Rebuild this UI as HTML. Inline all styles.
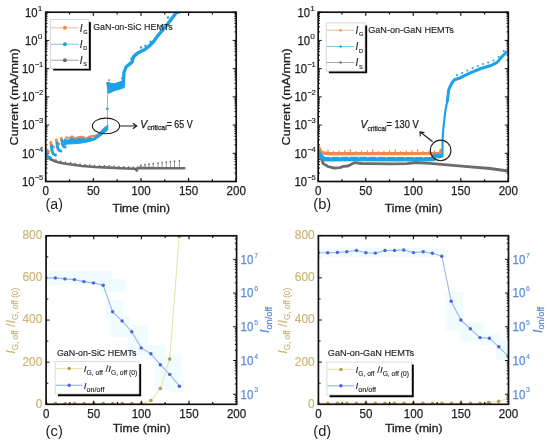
<!DOCTYPE html><html><head><meta charset="utf-8"><style>html,body{margin:0;padding:0;background:#fff;overflow:hidden}svg{display:block;will-change:transform;filter:blur(0.3px)}</style></head><body><svg width="550" height="442" viewBox="0 0 550 442" font-family='"Liberation Sans", sans-serif'><rect width="550" height="442" fill="#fff"/><defs><clipPath id="clipa"><rect x="45.7" y="12.2" width="190.50" height="169.30"/></clipPath><clipPath id="clipb"><rect x="318.2" y="12.2" width="190.10" height="169.30"/></clipPath><clipPath id="clipc"><rect x="46.1" y="235.8" width="190.50" height="168.50"/></clipPath><clipPath id="clipd"><rect x="318.4" y="235.7" width="190.10" height="168.60"/></clipPath></defs><path d="M45.7 181.5h3.5M236.2 181.5h-3.5M45.7 173.01h1.8M236.2 173.01h-1.8M45.7 168.04h1.8M236.2 168.04h-1.8M45.7 164.51h1.8M236.2 164.51h-1.8M45.7 161.78h1.8M236.2 161.78h-1.8M45.7 159.54h1.8M236.2 159.54h-1.8M45.7 157.65h1.8M236.2 157.65h-1.8M45.7 156.02h1.8M236.2 156.02h-1.8M45.7 154.57h1.8M236.2 154.57h-1.8M45.7 153.28h3.5M236.2 153.28h-3.5M45.7 144.79h1.8M236.2 144.79h-1.8M45.7 139.82h1.8M236.2 139.82h-1.8M45.7 136.3h1.8M236.2 136.3h-1.8M45.7 133.56h1.8M236.2 133.56h-1.8M45.7 131.33h1.8M236.2 131.33h-1.8M45.7 129.44h1.8M236.2 129.44h-1.8M45.7 127.8h1.8M236.2 127.8h-1.8M45.7 126.36h1.8M236.2 126.36h-1.8M45.7 125.07h3.5M236.2 125.07h-3.5M45.7 116.57h1.8M236.2 116.57h-1.8M45.7 111.6h1.8M236.2 111.6h-1.8M45.7 108.08h1.8M236.2 108.08h-1.8M45.7 105.34h1.8M236.2 105.34h-1.8M45.7 103.11h1.8M236.2 103.11h-1.8M45.7 101.22h1.8M236.2 101.22h-1.8M45.7 99.58h1.8M236.2 99.58h-1.8M45.7 98.14h1.8M236.2 98.14h-1.8M45.7 96.85h3.5M236.2 96.85h-3.5M45.7 88.36h1.8M236.2 88.36h-1.8M45.7 83.39h1.8M236.2 83.39h-1.8M45.7 79.86h1.8M236.2 79.86h-1.8M45.7 77.13h1.8M236.2 77.13h-1.8M45.7 74.89h1.8M236.2 74.89h-1.8M45.7 73h1.8M236.2 73h-1.8M45.7 71.37h1.8M236.2 71.37h-1.8M45.7 69.92h1.8M236.2 69.92h-1.8M45.7 68.63h3.5M236.2 68.63h-3.5M45.7 60.14h1.8M236.2 60.14h-1.8M45.7 55.17h1.8M236.2 55.17h-1.8M45.7 51.65h1.8M236.2 51.65h-1.8M45.7 48.91h1.8M236.2 48.91h-1.8M45.7 46.68h1.8M236.2 46.68h-1.8M45.7 44.79h1.8M236.2 44.79h-1.8M45.7 43.15h1.8M236.2 43.15h-1.8M45.7 41.71h1.8M236.2 41.71h-1.8M45.7 40.42h3.5M236.2 40.42h-3.5M45.7 31.92h1.8M236.2 31.92h-1.8M45.7 26.95h1.8M236.2 26.95h-1.8M45.7 23.43h1.8M236.2 23.43h-1.8M45.7 20.69h1.8M236.2 20.69h-1.8M45.7 18.46h1.8M236.2 18.46h-1.8M45.7 16.57h1.8M236.2 16.57h-1.8M45.7 14.93h1.8M236.2 14.93h-1.8M45.7 13.49h1.8M236.2 13.49h-1.8M45.7 12.2h3.5M236.2 12.2h-3.5" stroke="#111" stroke-width="1" fill="none"/><path d="M318.2 181.5h3.5M508.3 181.5h-3.5M318.2 173.01h1.8M508.3 173.01h-1.8M318.2 168.04h1.8M508.3 168.04h-1.8M318.2 164.51h1.8M508.3 164.51h-1.8M318.2 161.78h1.8M508.3 161.78h-1.8M318.2 159.54h1.8M508.3 159.54h-1.8M318.2 157.65h1.8M508.3 157.65h-1.8M318.2 156.02h1.8M508.3 156.02h-1.8M318.2 154.57h1.8M508.3 154.57h-1.8M318.2 153.28h3.5M508.3 153.28h-3.5M318.2 144.79h1.8M508.3 144.79h-1.8M318.2 139.82h1.8M508.3 139.82h-1.8M318.2 136.3h1.8M508.3 136.3h-1.8M318.2 133.56h1.8M508.3 133.56h-1.8M318.2 131.33h1.8M508.3 131.33h-1.8M318.2 129.44h1.8M508.3 129.44h-1.8M318.2 127.8h1.8M508.3 127.8h-1.8M318.2 126.36h1.8M508.3 126.36h-1.8M318.2 125.07h3.5M508.3 125.07h-3.5M318.2 116.57h1.8M508.3 116.57h-1.8M318.2 111.6h1.8M508.3 111.6h-1.8M318.2 108.08h1.8M508.3 108.08h-1.8M318.2 105.34h1.8M508.3 105.34h-1.8M318.2 103.11h1.8M508.3 103.11h-1.8M318.2 101.22h1.8M508.3 101.22h-1.8M318.2 99.58h1.8M508.3 99.58h-1.8M318.2 98.14h1.8M508.3 98.14h-1.8M318.2 96.85h3.5M508.3 96.85h-3.5M318.2 88.36h1.8M508.3 88.36h-1.8M318.2 83.39h1.8M508.3 83.39h-1.8M318.2 79.86h1.8M508.3 79.86h-1.8M318.2 77.13h1.8M508.3 77.13h-1.8M318.2 74.89h1.8M508.3 74.89h-1.8M318.2 73h1.8M508.3 73h-1.8M318.2 71.37h1.8M508.3 71.37h-1.8M318.2 69.92h1.8M508.3 69.92h-1.8M318.2 68.63h3.5M508.3 68.63h-3.5M318.2 60.14h1.8M508.3 60.14h-1.8M318.2 55.17h1.8M508.3 55.17h-1.8M318.2 51.65h1.8M508.3 51.65h-1.8M318.2 48.91h1.8M508.3 48.91h-1.8M318.2 46.68h1.8M508.3 46.68h-1.8M318.2 44.79h1.8M508.3 44.79h-1.8M318.2 43.15h1.8M508.3 43.15h-1.8M318.2 41.71h1.8M508.3 41.71h-1.8M318.2 40.42h3.5M508.3 40.42h-3.5M318.2 31.92h1.8M508.3 31.92h-1.8M318.2 26.95h1.8M508.3 26.95h-1.8M318.2 23.43h1.8M508.3 23.43h-1.8M318.2 20.69h1.8M508.3 20.69h-1.8M318.2 18.46h1.8M508.3 18.46h-1.8M318.2 16.57h1.8M508.3 16.57h-1.8M318.2 14.93h1.8M508.3 14.93h-1.8M318.2 13.49h1.8M508.3 13.49h-1.8M318.2 12.2h3.5M508.3 12.2h-3.5" stroke="#111" stroke-width="1" fill="none"/><g clip-path="url(#clipa)"><path d="M46 156 L50 159 L55 161.3 L60 162.8 L66 163.8 L75 165 L82 166 L95 167 L104 167.4 L120 168.2 L135.2 168.8 L136.8 170.5 L137.5 167.9 L160 168.2 L184.3 168.3" fill="none" stroke="#6c6c6c" stroke-width="2.6" stroke-linejoin="round" stroke-linecap="round" /><path d="M51 159.46v-2.3M55.85 161.56v-2.3M60.7 162.92v-2.3M65.55 163.73v-2.3M70.4 164.39v-2.3M75.25 165.04v-2.3M80.1 165.73v-2.3M84.95 166.23v-2.3M89.8 166.6v-2.3M94.65 166.97v-2.3M99.5 167.2v-2.3M104.35 167.42v-2.3M109.2 167.66v-2.3M114.05 167.9v-2.3M118.9 168.14v-2.3M123.75 168.35v-2.3M128.6 168.54v-2.3M133.45 168.73v-2.3" stroke="#6c6c6c" stroke-width="1.3" fill="none"/><path d="M140.9 168V165.2M145 168V164.7M149.1 168V164.2M153.2 168V163.6M158.1 168V163M162.2 168V162.5M166.3 168V162M170.4 168V161.6M174.5 168V161.2M179.4 168V160.8" stroke="#6c6c6c" stroke-width="0.8" fill="none" opacity="0.85"/><g fill="#6c6c6c"><circle cx="140.9" cy="165.2" r="0.85"/><circle cx="145" cy="164.7" r="0.85"/><circle cx="149.1" cy="164.2" r="0.85"/><circle cx="153.2" cy="163.6" r="0.85"/><circle cx="158.1" cy="163" r="0.85"/><circle cx="162.2" cy="162.5" r="0.85"/><circle cx="166.3" cy="162" r="0.85"/><circle cx="170.4" cy="161.6" r="0.85"/><circle cx="174.5" cy="161.2" r="0.85"/><circle cx="179.4" cy="160.8" r="0.85"/></g><path d="M45.3 146.5Q45.8 151 48.5 151.5" fill="none" stroke="#f28a4c" stroke-width="2.8" stroke-linecap="round"/><path d="M50.8 142.5Q51.3 146.5 53.8 147.0" fill="none" stroke="#f28a4c" stroke-width="2.8" stroke-linecap="round"/><path d="M56.3 140Q56.8 143.5 59 144.0" fill="none" stroke="#f28a4c" stroke-width="2.8" stroke-linecap="round"/><path d="M61.3 138.3Q61.8 141.5 64 142.0" fill="none" stroke="#f28a4c" stroke-width="2.8" stroke-linecap="round"/><path d="M65 137.5 L70 137.8 L72 136.3 L75 138.3 L79 137 L83 136.8 L86 138.3 L90 136.3 L95 135.8 L99 134 L102 131" fill="none" stroke="#f28a4c" stroke-width="2" stroke-linejoin="round"/><g fill="#f28a4c"><circle cx="109.2" cy="80.2" r="1.1"/><circle cx="121.8" cy="78.3" r="1.1"/></g><path d="M46 150.5Q46.3 157.5 50 157.5" fill="none" stroke="#1ea2e6" stroke-width="3" stroke-linecap="round"/><path d="M51.5 146Q51.8 155 55.5 155" fill="none" stroke="#1ea2e6" stroke-width="3" stroke-linecap="round"/><path d="M57 143Q57.3 151 60.8 151" fill="none" stroke="#1ea2e6" stroke-width="3" stroke-linecap="round"/><path d="M62 140.5Q62.3 147 65 147" fill="none" stroke="#1ea2e6" stroke-width="3" stroke-linecap="round"/><path d="M64.5 139 L68 140.2 L71.8 137.8 L75 139.8 L78 138.5 L82.7 138.3 L86 139.5 L90 137.5 L93 138.3 L96.4 135.5 L100 133 L102.7 129 L106.4 126.2 L107.8 125.5 L107.8 130 L103.6 133.5 L99.1 137 L94.5 140 L87.3 142 L78.2 143.5 L67.3 144 L64.5 145 Z" fill="#1ea2e6" stroke="#1ea2e6" stroke-width="1" stroke-linejoin="round"/><path d="M107.5 127V82" stroke="#1ea2e6" stroke-width="0.8" opacity="0.8"/><g fill="#1ea2e6"><circle cx="107.3" cy="108.8" r="1.3"/></g><path d="M107.5 83 L111 84 L115 84.5 L119 83 L123.5 81.5 L123.5 87 L119 88.5 L114 90 L109 92.5 Z" fill="#1ea2e6" stroke="#1ea2e6" stroke-width="2.5" stroke-linejoin="round"/><path d="M123.5 84 L123.5 79 L124 72.3 L126.3 66.7 L132 62.1 L133.7 56.5 L137.6 53.1 L144.4 49.7 L148.9 46.3 L153.5 41.8 L157.5 36.1 L161.3 31.5 L165.8 26.5 L170.3 20.5 L173.3 16.5 L176 13 L182 11" fill="none" stroke="#1ea2e6" stroke-width="3.4" stroke-linejoin="round" stroke-linecap="round" /><g fill="#1ea2e6"><circle cx="131.4" cy="58.8" r="1.2"/><circle cx="141" cy="47.4" r="1.2"/><circle cx="145.5" cy="45.7" r="1.2"/><circle cx="150.6" cy="41.8" r="1.2"/><circle cx="161" cy="26" r="1.2"/><circle cx="168" cy="17.5" r="1.2"/><circle cx="178" cy="12.5" r="1.2"/></g></g><ellipse cx="106" cy="125.9" rx="13.6" ry="7.8" fill="none" stroke="#1e1e1e" stroke-width="1.1"/><path d="M119.7 126H136.5M132.8 123.3L136.8 126L132.8 128.7" fill="none" stroke="#1e1e1e" stroke-width="1.1"/><text x="140.2" y="127.5" font-size="10.4" fill="#1e1e1e" stroke="#1e1e1e" stroke-width="0.25"><tspan font-style="italic">V</tspan><tspan font-size="7.6" dy="2.4" textLength="19.6" lengthAdjust="spacingAndGlyphs">critical</tspan><tspan dy="-2.4" textLength="25.8" lengthAdjust="spacingAndGlyphs">= 65 V</tspan></text><g clip-path="url(#clipb)"><path d="M318.5 153.6 L321 158 L323.3 163.6 L328 166.5 L334.2 168.2 L340 167.6 L343.3 166.4 L348 166 L354.2 162.7 L362 163.5 L370.5 163.6 L390 163.8 L406.9 163.6 L416 162.5 L430 163.3 L464.5 166.4 L490 168.5 L508 171" fill="none" stroke="#6c6c6c" stroke-width="2.8" stroke-linejoin="round" stroke-linecap="round" /><path d="M318.5 147.3 L321.5 152.7 L330 153.8 L360 153.6 L400 153.6 L440 153.4 L441 150.5" fill="none" stroke="#f28a4c" stroke-width="3.4" stroke-linejoin="round" stroke-linecap="round" /><path d="M328 153V149.3M333.6 153V151.1M339.2 153V150.5M344.8 153V149.9M350.4 153V149.3M356 153V151.1M361.6 153V150.5M367.2 153V149.9M372.8 153V149.3M378.4 153V151.1M384 153V150.5M389.6 153V149.9M395.2 153V149.3M400.8 153V151.1M406.4 153V150.5M412 153V149.9M417.6 153V149.3M423.2 153V151.1M428.8 153V150.5M434.4 153V149.9" stroke="#f28a4c" stroke-width="1.1"/><path d="M318.5 152.3 L321 156.5 L325 159.3 L354 159 L400 159.3 L433.6 159 L434 156 L440 156" fill="none" stroke="#1ea2e6" stroke-width="4.4" stroke-linejoin="round" stroke-linecap="round" /><path d="M440 156 L442.4 156.4 L442.6 140 L443.2 130 L445.3 111.3 L447.3 101.1" fill="none" stroke="#1ea2e6" stroke-width="2.2" stroke-linejoin="round" stroke-linecap="round" /><path d="M447.3 101.1 L448.7 89.9 L451.4 83.8 L454.4 79.7 L460.5 77.7 L470.7 72.6 L480.9 68.5 L491.1 65.5 L497.2 62.4 L502.3 56.3 L506.4 52.2 L509 51" fill="none" stroke="#1ea2e6" stroke-width="3.0" stroke-linejoin="round" stroke-linecap="round" /><path d="M330 157.2h1.3M339.3 157.2h1.3M348.6 157.2h1.3M357.9 157.2h1.3M367.2 157.2h1.3M376.5 157.2h1.3M385.8 157.2h1.3M395.1 157.2h1.3M404.4 157.2h1.3M413.7 157.2h1.3M423 157.2h1.3M432.3 157.2h1.3" stroke="#fff" stroke-width="1.2" opacity="0.8"/><g fill="#1ea2e6"><circle cx="457" cy="75.05" r="1.0"/><circle cx="462.2" cy="73.05" r="1.0"/><circle cx="467.4" cy="70.45" r="1.0"/><circle cx="472.6" cy="68.04" r="1.0"/><circle cx="477.8" cy="65.95" r="1.0"/><circle cx="483" cy="64.08" r="1.0"/><circle cx="488.2" cy="62.55" r="1.0"/><circle cx="493.4" cy="60.53" r="1.0"/><circle cx="498.6" cy="56.93" r="1.0"/><circle cx="503.8" cy="51" r="1.0"/></g></g><circle cx="440.6" cy="150.4" r="10.3" fill="none" stroke="#1e1e1e" stroke-width="1.1"/><path d="M432.7 141.8L420.5 132.2M420.3 136.4L420 131.8L424.4 132.6" fill="none" stroke="#1e1e1e" stroke-width="1.1"/><text x="360.5" y="128.1" font-size="10.4" fill="#1e1e1e" stroke="#1e1e1e" stroke-width="0.25"><tspan font-style="italic">V</tspan><tspan font-size="7.6" dy="2.4" textLength="19" lengthAdjust="spacingAndGlyphs">critical</tspan><tspan dy="-2.4" textLength="32.2" lengthAdjust="spacingAndGlyphs">= 130 V</tspan></text><rect x="45.7" y="12.2" width="190.5" height="169.3" fill="none" stroke="#111" stroke-width="1.7"/><path d="M45.7 181.5v-3.5M45.7 12.2v3.5M69.51 181.5v-2.2M69.51 12.2v2.2M93.33 181.5v-3.5M93.33 12.2v3.5M117.14 181.5v-2.2M117.14 12.2v2.2M140.95 181.5v-3.5M140.95 12.2v3.5M164.76 181.5v-2.2M164.76 12.2v2.2M188.57 181.5v-3.5M188.57 12.2v3.5M212.39 181.5v-2.2M212.39 12.2v2.2M236.2 181.5v-3.5M236.2 12.2v3.5" stroke="#111" stroke-width="1.2" fill="none"/><text x="45.7" y="195.3" font-size="12.6" fill="#1e1e1e" text-anchor="middle" textLength="6.45" lengthAdjust="spacingAndGlyphs" stroke="#1e1e1e" stroke-width="0.25" >0</text><text x="93.33" y="195.3" font-size="12.6" fill="#1e1e1e" text-anchor="middle" textLength="12.9" lengthAdjust="spacingAndGlyphs" stroke="#1e1e1e" stroke-width="0.25" >50</text><text x="140.95" y="195.3" font-size="12.6" fill="#1e1e1e" text-anchor="middle" textLength="19.35" lengthAdjust="spacingAndGlyphs" stroke="#1e1e1e" stroke-width="0.25" >100</text><text x="188.57" y="195.3" font-size="12.6" fill="#1e1e1e" text-anchor="middle" textLength="19.35" lengthAdjust="spacingAndGlyphs" stroke="#1e1e1e" stroke-width="0.25" >150</text><text x="236.2" y="195.3" font-size="12.6" fill="#1e1e1e" text-anchor="middle" textLength="19.35" lengthAdjust="spacingAndGlyphs" stroke="#1e1e1e" stroke-width="0.25" >200</text><text x="43.3" y="179.9" font-size="7" fill="#1e1e1e" text-anchor="end" textLength="8.6" lengthAdjust="spacingAndGlyphs" stroke="#1e1e1e" stroke-width="0.15" >&#8722;5</text><text x="34.5" y="185.9" font-size="12.2" fill="#1e1e1e" text-anchor="end" textLength="12.6" lengthAdjust="spacingAndGlyphs" stroke="#1e1e1e" stroke-width="0.25" >10</text><text x="43.3" y="151.68" font-size="7" fill="#1e1e1e" text-anchor="end" textLength="8.6" lengthAdjust="spacingAndGlyphs" stroke="#1e1e1e" stroke-width="0.15" >&#8722;4</text><text x="34.5" y="157.68" font-size="12.2" fill="#1e1e1e" text-anchor="end" textLength="12.6" lengthAdjust="spacingAndGlyphs" stroke="#1e1e1e" stroke-width="0.25" >10</text><text x="43.3" y="123.47" font-size="7" fill="#1e1e1e" text-anchor="end" textLength="8.6" lengthAdjust="spacingAndGlyphs" stroke="#1e1e1e" stroke-width="0.15" >&#8722;3</text><text x="34.5" y="129.47" font-size="12.2" fill="#1e1e1e" text-anchor="end" textLength="12.6" lengthAdjust="spacingAndGlyphs" stroke="#1e1e1e" stroke-width="0.25" >10</text><text x="43.3" y="95.25" font-size="7" fill="#1e1e1e" text-anchor="end" textLength="8.6" lengthAdjust="spacingAndGlyphs" stroke="#1e1e1e" stroke-width="0.15" >&#8722;2</text><text x="34.5" y="101.25" font-size="12.2" fill="#1e1e1e" text-anchor="end" textLength="12.6" lengthAdjust="spacingAndGlyphs" stroke="#1e1e1e" stroke-width="0.25" >10</text><text x="43.3" y="67.03" font-size="7" fill="#1e1e1e" text-anchor="end" textLength="8.6" lengthAdjust="spacingAndGlyphs" stroke="#1e1e1e" stroke-width="0.15" >&#8722;1</text><text x="34.5" y="73.03" font-size="12.2" fill="#1e1e1e" text-anchor="end" textLength="12.6" lengthAdjust="spacingAndGlyphs" stroke="#1e1e1e" stroke-width="0.25" >10</text><text x="42.3" y="38.82" font-size="7" fill="#1e1e1e" text-anchor="end" textLength="4.6" lengthAdjust="spacingAndGlyphs" stroke="#1e1e1e" stroke-width="0.15" >0</text><text x="37.5" y="44.82" font-size="12.2" fill="#1e1e1e" text-anchor="end" textLength="12.6" lengthAdjust="spacingAndGlyphs" stroke="#1e1e1e" stroke-width="0.25" >10</text><text x="42.3" y="10.6" font-size="7" fill="#1e1e1e" text-anchor="end" textLength="4.6" lengthAdjust="spacingAndGlyphs" stroke="#1e1e1e" stroke-width="0.15" >1</text><text x="37.5" y="16.6" font-size="12.2" fill="#1e1e1e" text-anchor="end" textLength="12.6" lengthAdjust="spacingAndGlyphs" stroke="#1e1e1e" stroke-width="0.25" >10</text><text transform="translate(17.6 96.9) rotate(-90)" font-size="11.6" fill="#1e1e1e" stroke="#1e1e1e" stroke-width="0.3" text-anchor="middle" textLength="97" lengthAdjust="spacingAndGlyphs">Current (mA/mm)</text><text x="141.25" y="211.7" font-size="11.6" fill="#1e1e1e" text-anchor="middle" textLength="57.6" lengthAdjust="spacingAndGlyphs" stroke="#1e1e1e" stroke-width="0.32" >Time (min)</text><rect x="318.2" y="12.2" width="190.1" height="169.3" fill="none" stroke="#111" stroke-width="1.7"/><path d="M318.2 181.5v-3.5M318.2 12.2v3.5M341.96 181.5v-2.2M341.96 12.2v2.2M365.73 181.5v-3.5M365.73 12.2v3.5M389.49 181.5v-2.2M389.49 12.2v2.2M413.25 181.5v-3.5M413.25 12.2v3.5M437.01 181.5v-2.2M437.01 12.2v2.2M460.77 181.5v-3.5M460.77 12.2v3.5M484.54 181.5v-2.2M484.54 12.2v2.2M508.3 181.5v-3.5M508.3 12.2v3.5" stroke="#111" stroke-width="1.2" fill="none"/><text x="318.2" y="195.3" font-size="12.6" fill="#1e1e1e" text-anchor="middle" textLength="6.45" lengthAdjust="spacingAndGlyphs" stroke="#1e1e1e" stroke-width="0.25" >0</text><text x="365.73" y="195.3" font-size="12.6" fill="#1e1e1e" text-anchor="middle" textLength="12.9" lengthAdjust="spacingAndGlyphs" stroke="#1e1e1e" stroke-width="0.25" >50</text><text x="413.25" y="195.3" font-size="12.6" fill="#1e1e1e" text-anchor="middle" textLength="19.35" lengthAdjust="spacingAndGlyphs" stroke="#1e1e1e" stroke-width="0.25" >100</text><text x="460.77" y="195.3" font-size="12.6" fill="#1e1e1e" text-anchor="middle" textLength="19.35" lengthAdjust="spacingAndGlyphs" stroke="#1e1e1e" stroke-width="0.25" >150</text><text x="508.3" y="195.3" font-size="12.6" fill="#1e1e1e" text-anchor="middle" textLength="19.35" lengthAdjust="spacingAndGlyphs" stroke="#1e1e1e" stroke-width="0.25" >200</text><text x="315.8" y="179.9" font-size="7" fill="#1e1e1e" text-anchor="end" textLength="8.6" lengthAdjust="spacingAndGlyphs" stroke="#1e1e1e" stroke-width="0.15" >&#8722;5</text><text x="307" y="185.9" font-size="12.2" fill="#1e1e1e" text-anchor="end" textLength="12.6" lengthAdjust="spacingAndGlyphs" stroke="#1e1e1e" stroke-width="0.25" >10</text><text x="315.8" y="151.68" font-size="7" fill="#1e1e1e" text-anchor="end" textLength="8.6" lengthAdjust="spacingAndGlyphs" stroke="#1e1e1e" stroke-width="0.15" >&#8722;4</text><text x="307" y="157.68" font-size="12.2" fill="#1e1e1e" text-anchor="end" textLength="12.6" lengthAdjust="spacingAndGlyphs" stroke="#1e1e1e" stroke-width="0.25" >10</text><text x="315.8" y="123.47" font-size="7" fill="#1e1e1e" text-anchor="end" textLength="8.6" lengthAdjust="spacingAndGlyphs" stroke="#1e1e1e" stroke-width="0.15" >&#8722;3</text><text x="307" y="129.47" font-size="12.2" fill="#1e1e1e" text-anchor="end" textLength="12.6" lengthAdjust="spacingAndGlyphs" stroke="#1e1e1e" stroke-width="0.25" >10</text><text x="315.8" y="95.25" font-size="7" fill="#1e1e1e" text-anchor="end" textLength="8.6" lengthAdjust="spacingAndGlyphs" stroke="#1e1e1e" stroke-width="0.15" >&#8722;2</text><text x="307" y="101.25" font-size="12.2" fill="#1e1e1e" text-anchor="end" textLength="12.6" lengthAdjust="spacingAndGlyphs" stroke="#1e1e1e" stroke-width="0.25" >10</text><text x="315.8" y="67.03" font-size="7" fill="#1e1e1e" text-anchor="end" textLength="8.6" lengthAdjust="spacingAndGlyphs" stroke="#1e1e1e" stroke-width="0.15" >&#8722;1</text><text x="307" y="73.03" font-size="12.2" fill="#1e1e1e" text-anchor="end" textLength="12.6" lengthAdjust="spacingAndGlyphs" stroke="#1e1e1e" stroke-width="0.25" >10</text><text x="314.8" y="38.82" font-size="7" fill="#1e1e1e" text-anchor="end" textLength="4.6" lengthAdjust="spacingAndGlyphs" stroke="#1e1e1e" stroke-width="0.15" >0</text><text x="310" y="44.82" font-size="12.2" fill="#1e1e1e" text-anchor="end" textLength="12.6" lengthAdjust="spacingAndGlyphs" stroke="#1e1e1e" stroke-width="0.25" >10</text><text x="314.8" y="10.6" font-size="7" fill="#1e1e1e" text-anchor="end" textLength="4.6" lengthAdjust="spacingAndGlyphs" stroke="#1e1e1e" stroke-width="0.15" >1</text><text x="310" y="16.6" font-size="12.2" fill="#1e1e1e" text-anchor="end" textLength="12.6" lengthAdjust="spacingAndGlyphs" stroke="#1e1e1e" stroke-width="0.25" >10</text><text transform="translate(289.9 96.9) rotate(-90)" font-size="11.6" fill="#1e1e1e" stroke="#1e1e1e" stroke-width="0.3" text-anchor="middle" textLength="97" lengthAdjust="spacingAndGlyphs">Current (mA/mm)</text><text x="413.55" y="211.7" font-size="11.6" fill="#1e1e1e" text-anchor="middle" textLength="57.6" lengthAdjust="spacingAndGlyphs" stroke="#1e1e1e" stroke-width="0.32" >Time (min)</text><text x="45.6" y="209.2" font-size="15.2" fill="#1e1e1e" text-anchor="start" textLength="17.3" lengthAdjust="spacingAndGlyphs" >(a)</text><text x="313.3" y="209.2" font-size="15.2" fill="#1e1e1e" text-anchor="start" textLength="17.9" lengthAdjust="spacingAndGlyphs" >(b)</text><path d="M53.2 69.4H89.7V22.1" fill="none" stroke="#000" stroke-width="2.3"/><rect x="50.5" y="19.6" width="38.1" height="48.8" fill="#fff" stroke="#cfcfcf" stroke-width="0.8"/><path d="M51 27.8h27.5" stroke="#f28a4c" stroke-width="1" opacity="0.6"/><circle cx="64.9" cy="27.8" r="2.0" fill="#f28a4c"/><text x="79.8" y="31.7" font-size="10" fill="#1e1e1e" stroke="#1e1e1e" stroke-width="0.15"><tspan font-style="italic">I</tspan><tspan font-size="5.6" dx="0.6" dy="2.2">G</tspan></text><path d="M51 44.2h27.5" stroke="#1ea2e6" stroke-width="1" opacity="0.6"/><circle cx="64.9" cy="44.2" r="2.0" fill="#1ea2e6"/><text x="79.8" y="48.1" font-size="10" fill="#1e1e1e" stroke="#1e1e1e" stroke-width="0.15"><tspan font-style="italic">I</tspan><tspan font-size="5.6" dx="0.6" dy="2.2">D</tspan></text><path d="M51 60.2h27.5" stroke="#6c6c6c" stroke-width="1" opacity="0.6"/><circle cx="64.9" cy="60.2" r="2.0" fill="#6c6c6c"/><text x="79.8" y="64.1" font-size="10" fill="#1e1e1e" stroke="#1e1e1e" stroke-width="0.15"><tspan font-style="italic">I</tspan><tspan font-size="5.6" dx="0.6" dy="2.2">S</tspan></text><text x="93.2" y="30.2" font-size="9.7" fill="#1e1e1e" text-anchor="start" textLength="79.5" lengthAdjust="spacingAndGlyphs" stroke="#1e1e1e" stroke-width="0.15" >GaN-on-SiC HEMTs</text><path d="M328.9 72.1H366V25.4" fill="none" stroke="#000" stroke-width="2.3"/><rect x="326.2" y="22.9" width="38.7" height="48.2" fill="#fff" stroke="#cfcfcf" stroke-width="0.8"/><path d="M326.7 30.2h27.5" stroke="#f28a4c" stroke-width="1" opacity="0.6"/><circle cx="340.6" cy="30.2" r="1.2" fill="#f28a4c"/><text x="355.5" y="34.1" font-size="10" fill="#1e1e1e" stroke="#1e1e1e" stroke-width="0.15"><tspan font-style="italic">I</tspan><tspan font-size="5.6" dx="0.6" dy="2.2">G</tspan></text><path d="M326.7 46.5h27.5" stroke="#1ea2e6" stroke-width="1" opacity="0.6"/><circle cx="340.6" cy="46.5" r="1.2" fill="#1ea2e6"/><text x="355.5" y="50.4" font-size="10" fill="#1e1e1e" stroke="#1e1e1e" stroke-width="0.15"><tspan font-style="italic">I</tspan><tspan font-size="5.6" dx="0.6" dy="2.2">D</tspan></text><path d="M326.7 62.5h27.5" stroke="#6c6c6c" stroke-width="1" opacity="0.6"/><circle cx="340.6" cy="62.5" r="1.2" fill="#6c6c6c"/><text x="355.5" y="66.4" font-size="10" fill="#1e1e1e" stroke="#1e1e1e" stroke-width="0.15"><tspan font-style="italic">I</tspan><tspan font-size="5.6" dx="0.6" dy="2.2">S</tspan></text><text x="368.2" y="32.9" font-size="9.7" fill="#1e1e1e" text-anchor="start" textLength="85.6" lengthAdjust="spacingAndGlyphs" stroke="#1e1e1e" stroke-width="0.15" >GaN-on-GaN HEMTs</text><path d="M46.1 404.3h3.5M46.1 383.24h2.2M46.1 362.18h3.5M46.1 341.11h2.2M46.1 320.05h3.5M46.1 298.99h2.2M46.1 277.93h3.5M46.1 256.86h2.2M46.1 235.8h3.5M236.6 401.68h-1.8M236.6 399.42h-1.8M236.6 397.47h-1.8M236.6 395.74h-1.8M236.6 394.2h-3.5M236.6 384.05h-1.8M236.6 378.11h-1.8M236.6 373.9h-1.8M236.6 370.63h-1.8M236.6 367.96h-1.8M236.6 365.7h-1.8M236.6 363.74h-1.8M236.6 362.02h-1.8M236.6 360.48h-3.5M236.6 350.32h-1.8M236.6 344.38h-1.8M236.6 340.17h-1.8M236.6 336.9h-1.8M236.6 334.23h-1.8M236.6 331.97h-1.8M236.6 330.02h-1.8M236.6 328.29h-1.8M236.6 326.75h-3.5M236.6 316.6h-1.8M236.6 310.66h-1.8M236.6 306.45h-1.8M236.6 303.18h-1.8M236.6 300.51h-1.8M236.6 298.25h-1.8M236.6 296.29h-1.8M236.6 294.57h-1.8M236.6 293.02h-3.5M236.6 282.87h-1.8M236.6 276.93h-1.8M236.6 272.72h-1.8M236.6 269.45h-1.8M236.6 266.78h-1.8M236.6 264.52h-1.8M236.6 262.57h-1.8M236.6 260.84h-1.8M236.6 259.3h-3.5M236.6 249.15h-1.8M236.6 243.21h-1.8M236.6 239h-1.8" stroke="#111" stroke-width="1" fill="none"/><path d="M318.4 404.3h3.5M318.4 383.23h2.2M318.4 362.15h3.5M318.4 341.07h2.2M318.4 320h3.5M318.4 298.93h2.2M318.4 277.85h3.5M318.4 256.77h2.2M318.4 235.7h3.5M508.5 401.68h-1.8M508.5 399.42h-1.8M508.5 397.47h-1.8M508.5 395.74h-1.8M508.5 394.2h-3.5M508.5 384.05h-1.8M508.5 378.11h-1.8M508.5 373.9h-1.8M508.5 370.63h-1.8M508.5 367.96h-1.8M508.5 365.7h-1.8M508.5 363.74h-1.8M508.5 362.02h-1.8M508.5 360.48h-3.5M508.5 350.32h-1.8M508.5 344.38h-1.8M508.5 340.17h-1.8M508.5 336.9h-1.8M508.5 334.23h-1.8M508.5 331.97h-1.8M508.5 330.02h-1.8M508.5 328.29h-1.8M508.5 326.75h-3.5M508.5 316.6h-1.8M508.5 310.66h-1.8M508.5 306.45h-1.8M508.5 303.18h-1.8M508.5 300.51h-1.8M508.5 298.25h-1.8M508.5 296.29h-1.8M508.5 294.57h-1.8M508.5 293.02h-3.5M508.5 282.87h-1.8M508.5 276.93h-1.8M508.5 272.72h-1.8M508.5 269.45h-1.8M508.5 266.78h-1.8M508.5 264.52h-1.8M508.5 262.57h-1.8M508.5 260.84h-1.8M508.5 259.3h-3.5M508.5 249.15h-1.8M508.5 243.21h-1.8M508.5 239h-1.8M508.5 235.73h-1.8" stroke="#111" stroke-width="1" fill="none"/><rect x="46" y="271" width="66" height="14" fill="#f0fcfd"/><rect x="100" y="279" width="26" height="13" fill="#f0fcfd"/><rect x="105" y="300" width="18" height="18" fill="#f0fcfd"/><rect x="110" y="315" width="20" height="22" fill="#f0fcfd"/><rect x="128" y="325" width="20" height="30" fill="#f0fcfd"/><rect x="145" y="345" width="20" height="14" fill="#f0fcfd"/><rect x="155" y="355" width="26" height="35" fill="#f0fcfd"/><rect x="170" y="380" width="14" height="12" fill="#f0fcfd"/><rect x="318" y="248" width="130" height="9" fill="#f0fcfd"/><rect x="445" y="292" width="18" height="38" fill="#f0fcfd"/><rect x="460" y="322" width="24" height="20" fill="#f0fcfd"/><rect x="480" y="333" width="20" height="12" fill="#f0fcfd"/><rect x="496" y="340" width="12" height="20" fill="#f0fcfd"/><g clip-path="url(#clipc)"><path d="M46.1 403.6 L55.62 403.6 L65.15 403.6 L74.67 403.6 L84.2 403.6 L93.72 403.6 L103.25 403.6 L112.78 403.6 L122.3 403.6 L131.83 403.6 L141.35 403.6 L150.9 400.5 L160.3 388.5 L169.7 359.1 L179.2 236.5" fill="none" stroke="#e9e3b2" stroke-width="1.1" stroke-linejoin="round" stroke-linecap="round" /><g fill="#aaa24a"><circle cx="46.1" cy="403.6" r="1.8"/><circle cx="55.62" cy="403.6" r="1.8"/><circle cx="65.15" cy="403.6" r="1.8"/><circle cx="74.67" cy="403.6" r="1.8"/><circle cx="84.2" cy="403.6" r="1.8"/><circle cx="93.72" cy="403.6" r="1.8"/><circle cx="103.25" cy="403.6" r="1.8"/><circle cx="112.78" cy="403.6" r="1.8"/><circle cx="122.3" cy="403.6" r="1.8"/><circle cx="131.83" cy="403.6" r="1.8"/><circle cx="141.35" cy="403.6" r="1.8"/><circle cx="150.9" cy="400.5" r="1.8"/><circle cx="160.3" cy="388.5" r="1.8"/><circle cx="169.7" cy="359.1" r="1.8"/><circle cx="179.2" cy="236.5" r="1.8"/></g><path d="M45.9 277.9 L55.4 277.9 L64.9 278.9 L74.4 279.6 L83.9 281.6 L93.4 282.9 L103.2 285.3 L112.6 311.8 L122.1 320.9 L131.8 331.8 L141.2 347.9 L150.9 353.8 L160.3 364.7 L169.7 374.4 L179.4 386.2" fill="none" stroke="#9fb4ee" stroke-width="1.1" stroke-linejoin="round" stroke-linecap="round" /><g fill="#4d63d8"><circle cx="45.9" cy="277.9" r="1.7"/><circle cx="55.4" cy="277.9" r="1.7"/><circle cx="64.9" cy="278.9" r="1.7"/><circle cx="74.4" cy="279.6" r="1.7"/><circle cx="83.9" cy="281.6" r="1.7"/><circle cx="93.4" cy="282.9" r="1.7"/><circle cx="103.2" cy="285.3" r="1.7"/><circle cx="112.6" cy="311.8" r="1.7"/><circle cx="122.1" cy="320.9" r="1.7"/><circle cx="131.8" cy="331.8" r="1.7"/><circle cx="141.2" cy="347.9" r="1.7"/><circle cx="150.9" cy="353.8" r="1.7"/><circle cx="160.3" cy="364.7" r="1.7"/><circle cx="169.7" cy="374.4" r="1.7"/><circle cx="179.4" cy="386.2" r="1.7"/></g></g><g clip-path="url(#clipd)"><path d="M318.4 403.4 L327.9 403.4 L337.41 403.4 L346.91 403.4 L356.42 403.4 L365.92 403.4 L375.43 403.4 L384.94 403.4 L394.44 403.4 L403.94 403.4 L413.45 403.4 L422.95 403.4 L432.46 403.4 L441.96 403.4 L451.47 403.4 L460.98 403.4 L470.48 403.4 L479.99 403.4 L489.49 403.4 L488.6 402.5 L498.6 401.4 L508.2 398.2" fill="none" stroke="#e9e3b2" stroke-width="1.1" stroke-linejoin="round" stroke-linecap="round" /><g fill="#aaa24a"><circle cx="318.4" cy="403.4" r="1.8"/><circle cx="327.9" cy="403.4" r="1.8"/><circle cx="337.41" cy="403.4" r="1.8"/><circle cx="346.91" cy="403.4" r="1.8"/><circle cx="356.42" cy="403.4" r="1.8"/><circle cx="365.92" cy="403.4" r="1.8"/><circle cx="375.43" cy="403.4" r="1.8"/><circle cx="384.94" cy="403.4" r="1.8"/><circle cx="394.44" cy="403.4" r="1.8"/><circle cx="403.94" cy="403.4" r="1.8"/><circle cx="413.45" cy="403.4" r="1.8"/><circle cx="422.95" cy="403.4" r="1.8"/><circle cx="432.46" cy="403.4" r="1.8"/><circle cx="441.96" cy="403.4" r="1.8"/><circle cx="451.47" cy="403.4" r="1.8"/><circle cx="460.98" cy="403.4" r="1.8"/><circle cx="470.48" cy="403.4" r="1.8"/><circle cx="479.99" cy="403.4" r="1.8"/><circle cx="489.49" cy="403.4" r="1.8"/><circle cx="488.6" cy="402.5" r="1.8"/><circle cx="498.6" cy="401.4" r="1.8"/><circle cx="508.2" cy="398.2" r="1.8"/></g><path d="M318.3 252.7 L327.7 252.7 L337.4 252.4 L346.8 251.8 L356.5 250.4 L365.9 252.7 L375.4 253.1 L385 250.5 L394.5 250.4 L403.7 250 L413.5 252.6 L423.2 251.8 L432.4 253.2 L441.8 256.2 L451.2 301.2 L460.9 320 L470.3 328.8 L480 337.6 L489.4 338.2 L498.8 346.8 L508.2 356.2" fill="none" stroke="#9fb4ee" stroke-width="1.1" stroke-linejoin="round" stroke-linecap="round" /><g fill="#4d63d8"><circle cx="318.3" cy="252.7" r="1.7"/><circle cx="327.7" cy="252.7" r="1.7"/><circle cx="337.4" cy="252.4" r="1.7"/><circle cx="346.8" cy="251.8" r="1.7"/><circle cx="356.5" cy="250.4" r="1.7"/><circle cx="365.9" cy="252.7" r="1.7"/><circle cx="375.4" cy="253.1" r="1.7"/><circle cx="385" cy="250.5" r="1.7"/><circle cx="394.5" cy="250.4" r="1.7"/><circle cx="403.7" cy="250" r="1.7"/><circle cx="413.5" cy="252.6" r="1.7"/><circle cx="423.2" cy="251.8" r="1.7"/><circle cx="432.4" cy="253.2" r="1.7"/><circle cx="441.8" cy="256.2" r="1.7"/><circle cx="451.2" cy="301.2" r="1.7"/><circle cx="460.9" cy="320" r="1.7"/><circle cx="470.3" cy="328.8" r="1.7"/><circle cx="480" cy="337.6" r="1.7"/><circle cx="489.4" cy="338.2" r="1.7"/><circle cx="498.8" cy="346.8" r="1.7"/><circle cx="508.2" cy="356.2" r="1.7"/></g></g><rect x="46.1" y="235.8" width="190.5" height="168.5" fill="none" stroke="#111" stroke-width="1.7"/><path d="M46.1 404.3v-3.5M46.1 235.8v3.5M69.91 404.3v-2.2M69.91 235.8v2.2M93.72 404.3v-3.5M93.72 235.8v3.5M117.54 404.3v-2.2M117.54 235.8v2.2M141.35 404.3v-3.5M141.35 235.8v3.5M165.16 404.3v-2.2M165.16 235.8v2.2M188.97 404.3v-3.5M188.97 235.8v3.5M212.79 404.3v-2.2M212.79 235.8v2.2M236.6 404.3v-3.5M236.6 235.8v3.5" stroke="#111" stroke-width="1.2" fill="none"/><text x="46.1" y="418.1" font-size="12.6" fill="#1e1e1e" text-anchor="middle" textLength="6.45" lengthAdjust="spacingAndGlyphs" stroke="#1e1e1e" stroke-width="0.25" >0</text><text x="93.72" y="418.1" font-size="12.6" fill="#1e1e1e" text-anchor="middle" textLength="12.9" lengthAdjust="spacingAndGlyphs" stroke="#1e1e1e" stroke-width="0.25" >50</text><text x="141.35" y="418.1" font-size="12.6" fill="#1e1e1e" text-anchor="middle" textLength="19.35" lengthAdjust="spacingAndGlyphs" stroke="#1e1e1e" stroke-width="0.25" >100</text><text x="188.97" y="418.1" font-size="12.6" fill="#1e1e1e" text-anchor="middle" textLength="19.35" lengthAdjust="spacingAndGlyphs" stroke="#1e1e1e" stroke-width="0.25" >150</text><text x="236.6" y="418.1" font-size="12.6" fill="#1e1e1e" text-anchor="middle" textLength="19.35" lengthAdjust="spacingAndGlyphs" stroke="#1e1e1e" stroke-width="0.25" >200</text><text x="42.3" y="407.7" font-size="12.6" fill="#cdb574" text-anchor="end" textLength="6.6" lengthAdjust="spacingAndGlyphs" stroke="#cdb574" stroke-width="0.2" >0</text><text x="42.3" y="365.57" font-size="12.6" fill="#cdb574" text-anchor="end" textLength="19.8" lengthAdjust="spacingAndGlyphs" stroke="#cdb574" stroke-width="0.2" >200</text><text x="42.3" y="323.45" font-size="12.6" fill="#cdb574" text-anchor="end" textLength="19.8" lengthAdjust="spacingAndGlyphs" stroke="#cdb574" stroke-width="0.2" >400</text><text x="42.3" y="281.32" font-size="12.6" fill="#cdb574" text-anchor="end" textLength="19.8" lengthAdjust="spacingAndGlyphs" stroke="#cdb574" stroke-width="0.2" >600</text><text x="42.3" y="239.2" font-size="12.6" fill="#cdb574" text-anchor="end" textLength="19.8" lengthAdjust="spacingAndGlyphs" stroke="#cdb574" stroke-width="0.2" >800</text><text x="240.6" y="398.6" font-size="12.4" fill="#5a8ad6" text-anchor="start" textLength="12.8" lengthAdjust="spacingAndGlyphs" stroke="#5a8ad6" stroke-width="0.25" >10</text><text x="254.2" y="392.4" font-size="7" fill="#5a8ad6" text-anchor="start" stroke="#5a8ad6" stroke-width="0.12" >3</text><text x="240.6" y="364.88" font-size="12.4" fill="#5a8ad6" text-anchor="start" textLength="12.8" lengthAdjust="spacingAndGlyphs" stroke="#5a8ad6" stroke-width="0.25" >10</text><text x="254.2" y="358.68" font-size="7" fill="#5a8ad6" text-anchor="start" stroke="#5a8ad6" stroke-width="0.12" >4</text><text x="240.6" y="331.15" font-size="12.4" fill="#5a8ad6" text-anchor="start" textLength="12.8" lengthAdjust="spacingAndGlyphs" stroke="#5a8ad6" stroke-width="0.25" >10</text><text x="254.2" y="324.95" font-size="7" fill="#5a8ad6" text-anchor="start" stroke="#5a8ad6" stroke-width="0.12" >5</text><text x="240.6" y="297.42" font-size="12.4" fill="#5a8ad6" text-anchor="start" textLength="12.8" lengthAdjust="spacingAndGlyphs" stroke="#5a8ad6" stroke-width="0.25" >10</text><text x="254.2" y="291.22" font-size="7" fill="#5a8ad6" text-anchor="start" stroke="#5a8ad6" stroke-width="0.12" >6</text><text x="240.6" y="263.7" font-size="12.4" fill="#5a8ad6" text-anchor="start" textLength="12.8" lengthAdjust="spacingAndGlyphs" stroke="#5a8ad6" stroke-width="0.25" >10</text><text x="254.2" y="257.5" font-size="7" fill="#5a8ad6" text-anchor="start" stroke="#5a8ad6" stroke-width="0.12" >7</text><text x="141.65" y="431.6" font-size="11.6" fill="#1e1e1e" text-anchor="middle" textLength="57.6" lengthAdjust="spacingAndGlyphs" stroke="#1e1e1e" stroke-width="0.32" >Time (min)</text><text transform="translate(14.7 353.8) rotate(-90)" font-size="12.5" fill="#cdb574" stroke="#cdb574" stroke-width="0.2"><tspan font-style="italic">I</tspan><tspan font-size="8.2" dy="3.4">G, off</tspan><tspan dy="-3.4"> /</tspan><tspan font-style="italic">I</tspan><tspan font-size="8.2" dy="3.4">G, off (0)</tspan></text><text transform="translate(269.2 333) rotate(-90)" font-size="12.3" fill="#5a8ad6" stroke="#5a8ad6" stroke-width="0.2"><tspan font-style="italic">I</tspan><tspan font-size="8.4" dy="2.9" textLength="23" lengthAdjust="spacingAndGlyphs">on/off</tspan></text><rect x="318.4" y="235.7" width="190.1" height="168.6" fill="none" stroke="#111" stroke-width="1.7"/><path d="M318.4 404.3v-3.5M318.4 235.7v3.5M342.16 404.3v-2.2M342.16 235.7v2.2M365.92 404.3v-3.5M365.92 235.7v3.5M389.69 404.3v-2.2M389.69 235.7v2.2M413.45 404.3v-3.5M413.45 235.7v3.5M437.21 404.3v-2.2M437.21 235.7v2.2M460.98 404.3v-3.5M460.98 235.7v3.5M484.74 404.3v-2.2M484.74 235.7v2.2M508.5 404.3v-3.5M508.5 235.7v3.5" stroke="#111" stroke-width="1.2" fill="none"/><text x="318.4" y="418.1" font-size="12.6" fill="#1e1e1e" text-anchor="middle" textLength="6.45" lengthAdjust="spacingAndGlyphs" stroke="#1e1e1e" stroke-width="0.25" >0</text><text x="365.92" y="418.1" font-size="12.6" fill="#1e1e1e" text-anchor="middle" textLength="12.9" lengthAdjust="spacingAndGlyphs" stroke="#1e1e1e" stroke-width="0.25" >50</text><text x="413.45" y="418.1" font-size="12.6" fill="#1e1e1e" text-anchor="middle" textLength="19.35" lengthAdjust="spacingAndGlyphs" stroke="#1e1e1e" stroke-width="0.25" >100</text><text x="460.98" y="418.1" font-size="12.6" fill="#1e1e1e" text-anchor="middle" textLength="19.35" lengthAdjust="spacingAndGlyphs" stroke="#1e1e1e" stroke-width="0.25" >150</text><text x="508.5" y="418.1" font-size="12.6" fill="#1e1e1e" text-anchor="middle" textLength="19.35" lengthAdjust="spacingAndGlyphs" stroke="#1e1e1e" stroke-width="0.25" >200</text><text x="314.6" y="407.7" font-size="12.6" fill="#cdb574" text-anchor="end" textLength="6.6" lengthAdjust="spacingAndGlyphs" stroke="#cdb574" stroke-width="0.2" >0</text><text x="314.6" y="365.55" font-size="12.6" fill="#cdb574" text-anchor="end" textLength="19.8" lengthAdjust="spacingAndGlyphs" stroke="#cdb574" stroke-width="0.2" >200</text><text x="314.6" y="323.4" font-size="12.6" fill="#cdb574" text-anchor="end" textLength="19.8" lengthAdjust="spacingAndGlyphs" stroke="#cdb574" stroke-width="0.2" >400</text><text x="314.6" y="281.25" font-size="12.6" fill="#cdb574" text-anchor="end" textLength="19.8" lengthAdjust="spacingAndGlyphs" stroke="#cdb574" stroke-width="0.2" >600</text><text x="314.6" y="239.1" font-size="12.6" fill="#cdb574" text-anchor="end" textLength="19.8" lengthAdjust="spacingAndGlyphs" stroke="#cdb574" stroke-width="0.2" >800</text><text x="512.5" y="398.6" font-size="12.4" fill="#5a8ad6" text-anchor="start" textLength="12.8" lengthAdjust="spacingAndGlyphs" stroke="#5a8ad6" stroke-width="0.25" >10</text><text x="526.1" y="392.4" font-size="7" fill="#5a8ad6" text-anchor="start" stroke="#5a8ad6" stroke-width="0.12" >3</text><text x="512.5" y="364.88" font-size="12.4" fill="#5a8ad6" text-anchor="start" textLength="12.8" lengthAdjust="spacingAndGlyphs" stroke="#5a8ad6" stroke-width="0.25" >10</text><text x="526.1" y="358.68" font-size="7" fill="#5a8ad6" text-anchor="start" stroke="#5a8ad6" stroke-width="0.12" >4</text><text x="512.5" y="331.15" font-size="12.4" fill="#5a8ad6" text-anchor="start" textLength="12.8" lengthAdjust="spacingAndGlyphs" stroke="#5a8ad6" stroke-width="0.25" >10</text><text x="526.1" y="324.95" font-size="7" fill="#5a8ad6" text-anchor="start" stroke="#5a8ad6" stroke-width="0.12" >5</text><text x="512.5" y="297.42" font-size="12.4" fill="#5a8ad6" text-anchor="start" textLength="12.8" lengthAdjust="spacingAndGlyphs" stroke="#5a8ad6" stroke-width="0.25" >10</text><text x="526.1" y="291.22" font-size="7" fill="#5a8ad6" text-anchor="start" stroke="#5a8ad6" stroke-width="0.12" >6</text><text x="512.5" y="263.7" font-size="12.4" fill="#5a8ad6" text-anchor="start" textLength="12.8" lengthAdjust="spacingAndGlyphs" stroke="#5a8ad6" stroke-width="0.25" >10</text><text x="526.1" y="257.5" font-size="7" fill="#5a8ad6" text-anchor="start" stroke="#5a8ad6" stroke-width="0.12" >7</text><text x="413.75" y="431.6" font-size="11.6" fill="#1e1e1e" text-anchor="middle" textLength="57.6" lengthAdjust="spacingAndGlyphs" stroke="#1e1e1e" stroke-width="0.32" >Time (min)</text><text transform="translate(287 353.8) rotate(-90)" font-size="12.5" fill="#cdb574" stroke="#cdb574" stroke-width="0.2"><tspan font-style="italic">I</tspan><tspan font-size="8.2" dy="3.4">G, off</tspan><tspan dy="-3.4"> /</tspan><tspan font-style="italic">I</tspan><tspan font-size="8.2" dy="3.4">G, off (0)</tspan></text><text transform="translate(541.5 333) rotate(-90)" font-size="12.3" fill="#5a8ad6" stroke="#5a8ad6" stroke-width="0.2"><tspan font-style="italic">I</tspan><tspan font-size="8.4" dy="2.9" textLength="23" lengthAdjust="spacingAndGlyphs">on/off</tspan></text><text x="45.6" y="435.6" font-size="15.2" fill="#1e1e1e" text-anchor="start" textLength="17.3" lengthAdjust="spacingAndGlyphs" >(c)</text><text x="313.3" y="435.6" font-size="15.2" fill="#1e1e1e" text-anchor="start" textLength="17.9" lengthAdjust="spacingAndGlyphs" >(d)</text><text x="56.9" y="356.1" font-size="9.7" fill="#1e1e1e" text-anchor="start" textLength="79.5" lengthAdjust="spacingAndGlyphs" stroke="#1e1e1e" stroke-width="0.15" >GaN-on-SiC HEMTs</text><path d="M57.9 395H140V364.1" fill="none" stroke="#000" stroke-width="2.3"/><rect x="55.2" y="361.6" width="83.7" height="32.3" fill="#fff" stroke="#d4d4d4" stroke-width="0.8"/><path d="M55.7 368.5h27" stroke="#e9e3b2" stroke-width="1.2"/><circle cx="69.2" cy="368.5" r="1.7" fill="#aaa24a"/><path d="M55.7 385.3h27" stroke="#9fb4ee" stroke-width="1.2"/><circle cx="69.2" cy="385.3" r="1.7" fill="#4d63d8"/><text x="83.8" y="372.1" font-size="9.8" fill="#1e1e1e" stroke="#1e1e1e" stroke-width="0.12"><tspan font-style="italic">I</tspan><tspan font-size="6.7" dy="2.6">G, off</tspan><tspan dy="-2.6"> /</tspan><tspan font-style="italic">I</tspan><tspan font-size="6.7" dy="2.6">G, off (0)</tspan></text><text x="83.8" y="388.9" font-size="9.8" fill="#1e1e1e" stroke="#1e1e1e" stroke-width="0.12"><tspan font-style="italic">I</tspan><tspan font-size="7.2" dy="2.6">on/off</tspan></text><text x="327.8" y="356.1" font-size="9.7" fill="#1e1e1e" text-anchor="start" textLength="86.3" lengthAdjust="spacingAndGlyphs" stroke="#1e1e1e" stroke-width="0.15" >GaN-on-GaN HEMTs</text><path d="M329.6 396H412.6V364.6" fill="none" stroke="#000" stroke-width="2.3"/><rect x="326.9" y="362.1" width="84.6" height="32.8" fill="#fff" stroke="#d4d4d4" stroke-width="0.8"/><path d="M327.4 369.4h27" stroke="#e9e3b2" stroke-width="1.2"/><circle cx="340.9" cy="369.4" r="1.7" fill="#aaa24a"/><path d="M327.4 385.8h27" stroke="#9fb4ee" stroke-width="1.2"/><circle cx="340.9" cy="385.8" r="1.7" fill="#4d63d8"/><text x="355.5" y="373" font-size="9.8" fill="#1e1e1e" stroke="#1e1e1e" stroke-width="0.12"><tspan font-style="italic">I</tspan><tspan font-size="6.7" dy="2.6">G, off</tspan><tspan dy="-2.6"> /</tspan><tspan font-style="italic">I</tspan><tspan font-size="6.7" dy="2.6">G, off (0)</tspan></text><text x="355.5" y="389.4" font-size="9.8" fill="#1e1e1e" stroke="#1e1e1e" stroke-width="0.12"><tspan font-style="italic">I</tspan><tspan font-size="7.2" dy="2.6">on/off</tspan></text></svg></body></html>
